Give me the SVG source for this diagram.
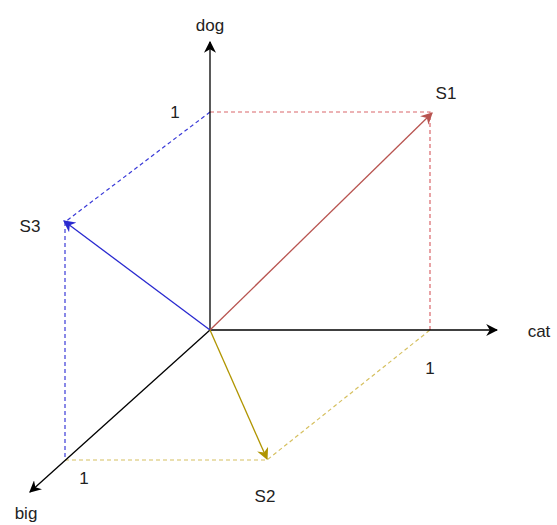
<svg xmlns="http://www.w3.org/2000/svg" width="557" height="525" viewBox="0 0 557 525">
<style>
text{font-family:"Liberation Sans",Arial,sans-serif;font-size:17px;fill:#222;text-anchor:middle;dominant-baseline:central}
.ax{stroke:#000;stroke-width:1.3;fill:none}
.dash{fill:none;stroke-width:1.2;stroke-dasharray:4 3}
</style>
<defs>
<marker id="mkA" viewBox="0 0 10 10" refX="9" refY="5" markerWidth="12" markerHeight="12" markerUnits="userSpaceOnUse" orient="auto"><path d="M0,0 L10,5 L0,10 L3,5 Z" fill="#000"/></marker>
<marker id="mkR" viewBox="0 0 10 10" refX="9" refY="5" markerWidth="12" markerHeight="12" markerUnits="userSpaceOnUse" orient="auto"><path d="M0,0 L10,5 L0,10 L3,5 Z" fill="#b85450"/></marker>
<marker id="mkB" viewBox="0 0 10 10" refX="9" refY="5" markerWidth="12" markerHeight="12" markerUnits="userSpaceOnUse" orient="auto"><path d="M0,0 L10,5 L0,10 L3,5 Z" fill="#2a2ad0"/></marker>
<marker id="mkY" viewBox="0 0 10 10" refX="9" refY="5" markerWidth="12" markerHeight="12" markerUnits="userSpaceOnUse" orient="auto"><path d="M0,0 L10,5 L0,10 L3,5 Z" fill="#b09500"/></marker>
</defs>
<g id="connectors">
<path class="dash" stroke="#d9666a" d="M210,112 H430 V330"/>
<path class="dash" stroke="#3a3ad8" d="M210,112 L65,222 V460"/>
<path class="dash" stroke="#d6c060" d="M65,460 H267 L430,330"/>
<line class="ax" x1="210" y1="330" x2="210" y2="42" marker-end="url(#mkA)"/>
<line class="ax" x1="210" y1="330" x2="497" y2="330" marker-end="url(#mkA)"/>
<line class="ax" x1="210" y1="330" x2="30" y2="492" marker-end="url(#mkA)"/>
<line x1="210" y1="330" x2="432" y2="113" stroke="#b85450" stroke-width="1.3" marker-end="url(#mkR)"/>
<line x1="210" y1="330" x2="64" y2="221" stroke="#2a2ad0" stroke-width="1.3" marker-end="url(#mkB)"/>
<line x1="210" y1="330" x2="267" y2="459" stroke="#b09500" stroke-width="1.3" marker-end="url(#mkY)"/>
</g>
<g id="dog"><text x="210" y="25">dog</text></g>
<g id="cat"><text x="539" y="331">cat</text></g>
<g id="big"><text x="26" y="513">big</text></g>
<g id="S1"><text x="446" y="93">S1</text></g>
<g id="S2"><text x="265" y="496">S2</text></g>
<g id="S3"><text x="30" y="226">S3</text></g>
<g id="one-dog"><text x="175" y="112">1</text></g>
<g id="one-cat"><text x="430" y="368">1</text></g>
<g id="one-big"><text x="84" y="478">1</text></g>
</svg>
